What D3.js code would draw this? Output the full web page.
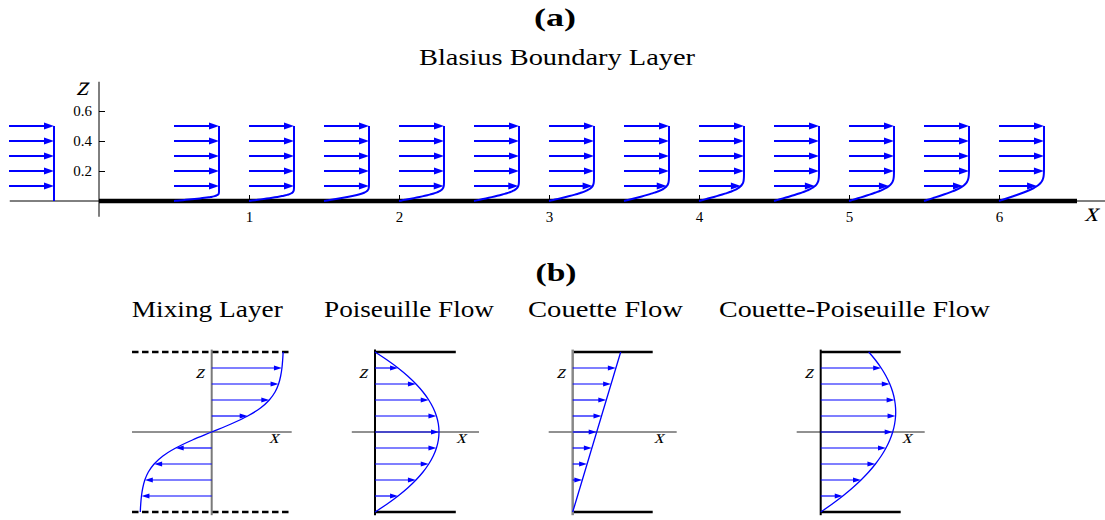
<!DOCTYPE html>
<html>
<head>
<meta charset="utf-8">
<script src="https://cdn.jsdelivr.net/npm/d3@7"></script>
<style>
  body { margin: 0; background: #fff; }
  svg { display: block; }
</style>
</head>
<body>
<svg id="chart" width="1105" height="520"></svg>
<script>
// ---------- Panel (a): Blasius boundary layer over a flat plate ----------
const stationX = [0.5, 1, 1.5, 2, 2.5, 3, 3.5, 4, 4.5, 5, 5.5, 6];
const inletX = -0.6;
const arrowZA = [0.1, 0.2, 0.3, 0.4, 0.5];
// Blasius similarity solution: eta and f'(eta) = u/U
const blasiusEta = [0, 0.2, 0.4, 0.6, 0.8, 1.0, 1.2, 1.4, 1.6, 1.8, 2.0, 2.2, 2.4, 2.6, 2.8,
                    3.0, 3.2, 3.4, 3.6, 3.8, 4.0, 4.2, 4.4, 4.6, 4.8, 5.0, 5.4, 5.8, 6.4, 7.2, 8.0];
const blasiusFp  = [0, 0.06641, 0.13277, 0.19894, 0.26471, 0.32979, 0.39378, 0.45627, 0.51676,
                    0.57477, 0.62977, 0.68132, 0.72899, 0.77246, 0.81152, 0.84605, 0.87609,
                    0.90177, 0.92333, 0.94112, 0.95552, 0.96696, 0.97587, 0.98269, 0.98779,
                    0.99155, 0.99616, 0.99838, 0.99961, 0.99996, 1.0];
const xTicksA = [1, 2, 3, 4, 5, 6];
const zTicksA = [0.2, 0.4, 0.6];
const nuA = 1.85e-4;        // kinematic viscosity / free-stream speed
const profileScaleA = 0.3;  // x-length drawn for a unit velocity
const profileTopA = 0.5;    // height of each drawn profile
const plateEnd = 6.52;

// ---------- Panel (b): shear and channel flows ----------
const zB = [-1, -0.9, -0.8, -0.7, -0.6, -0.5, -0.4, -0.3, -0.2, -0.1, 0,
            0.1, 0.2, 0.3, 0.4, 0.5, 0.6, 0.7, 0.8, 0.9, 1];
const mixingU = [-0.893, -0.887, -0.878, -0.862, -0.836, -0.792, -0.720, -0.610, -0.450, -0.241, 0,
                 0.241, 0.450, 0.610, 0.720, 0.792, 0.836, 0.862, 0.878, 0.887, 0.893];
const poiseuilleU = [0, 0.152, 0.288, 0.408, 0.512, 0.6, 0.672, 0.728, 0.768, 0.792, 0.8,
                     0.792, 0.768, 0.728, 0.672, 0.6, 0.512, 0.408, 0.288, 0.152, 0];
const couetteU = [0, 0.03, 0.06, 0.09, 0.12, 0.15, 0.18, 0.21, 0.24, 0.27, 0.3,
                  0.33, 0.36, 0.39, 0.42, 0.45, 0.48, 0.51, 0.54, 0.57, 0.6];
const couettePoiseuilleU = [0, 0.144, 0.276, 0.396, 0.504, 0.6, 0.684, 0.756, 0.816, 0.864, 0.9,
                            0.924, 0.936, 0.936, 0.924, 0.9, 0.864, 0.816, 0.756, 0.684, 0.6];
const arrowZB = [-0.8, -0.6, -0.4, -0.2, 0, 0.2, 0.4, 0.6, 0.8];
const titlesB = ["Mixing Layer", "Poiseuille Flow", "Couette Flow", "Couette-Poiseuille Flow"];

const BLUE = "#0000ff";
const SERIF = "Liberation Serif";
const svg = d3.select("#chart");

function addText(g, str, x, y, o = {}) {
  // slanted text is drawn as an oblique of the upright face
  const host = o.italic
    ? g.append("g").attr("transform", `translate(${x},${y}) skewX(-15)`)
    : g;
  const t = host.append("text")
    .attr("x", o.italic ? 0 : x).attr("y", o.italic ? 0 : y)
    .attr("text-anchor", o.anchor || "middle")
    .attr("font-family", SERIF)
    .attr("font-size", o.size || 16)
    .attr("fill", "#000")
    .text(str);
  if (o.bold) t.attr("font-weight", "bold");
  if (o.width) t.attr("textLength", o.width).attr("lengthAdjust", "spacingAndGlyphs");
  return t;
}

// Horizontal arrow from px x0 to px x1 at px y
function arrow(g, x0, x1, y, o) {
  const dir = Math.sign(x1 - x0);
  const len = Math.abs(x1 - x0);
  if (len < o.head) return;
  const xb = x1 - dir * o.head;
  g.append("line")
    .attr("x1", x0).attr("y1", y).attr("x2", xb + dir * 1).attr("y2", y)
    .attr("stroke", BLUE).attr("stroke-width", o.width);
  g.append("path")
    .attr("d", `M${x1},${y}L${xb},${y - o.half}L${xb},${y + o.half}Z`)
    .attr("fill", BLUE);
}

// ================= Panel (a) =================
addText(svg, "(a)", 555, 26, { size: 26, bold: true, width: 42 });
addText(svg, "Blasius Boundary Layer", 557, 65, { size: 24, width: 276 });

const xA = d3.scaleLinear().domain([0, 1]).range([99, 249]);
const zA = d3.scaleLinear().domain([0, 1]).range([201, 51]);
const gA = svg.append("g");

// axis lines
gA.append("line").attr("x1", xA(-0.595)).attr("x2", 1105)
  .attr("y1", zA(0)).attr("y2", zA(0)).attr("stroke", "#000").attr("stroke-width", 1);
gA.append("line").attr("x1", xA(0)).attr("x2", xA(0))
  .attr("y1", zA(0.795)).attr("y2", zA(-0.105)).attr("stroke", "#000").attr("stroke-width", 1);

// ticks and labels
const xAxisA = d3.axisBottom(xA).tickValues(xTicksA).tickFormat(d3.format("d"))
  .tickSizeInner(-6).tickSizeOuter(0).tickPadding(10);
const gx = gA.append("g").attr("transform", `translate(0,${zA(0)})`).call(xAxisA);
const zAxisA = d3.axisLeft(zA).tickValues(zTicksA).tickFormat(d3.format(".1f"))
  .tickSizeInner(-6).tickSizeOuter(0).tickPadding(7);
const gz = gA.append("g").attr("transform", `translate(${xA(0)},0)`).call(zAxisA);
[gx, gz].forEach(g => {
  g.select(".domain").remove();
  g.attr("font-family", SERIF).attr("font-size", 15);
  g.selectAll("text").attr("font-family", SERIF).attr("font-size", 15).attr("fill", "#000");
  g.selectAll("line").attr("stroke", "#000");
});

// plate
gA.append("line").attr("x1", xA(0)).attr("x2", xA(plateEnd))
  .attr("y1", zA(0)).attr("y2", zA(0)).attr("stroke", "#000").attr("stroke-width", 4.5);

addText(gA, "z", 82, 95, { size: 27, italic: true });
addText(gA, "x", 1091, 221, { size: 27, italic: true });

// inlet (uniform) profile
const arrowA = { head: 10, half: 3.5, width: 2 };
const inletTip = inletX + profileScaleA;
gA.append("line").attr("x1", xA(inletTip)).attr("x2", xA(inletTip))
  .attr("y1", zA(0)).attr("y2", zA(profileTopA))
  .attr("stroke", BLUE).attr("stroke-width", 2);
arrowZA.forEach(z => arrow(gA, xA(inletX), xA(inletTip), zA(z), arrowA));

// Blasius profiles downstream
const fpOfEta = d3.scaleLinear().domain(blasiusEta).range(blasiusFp).clamp(true);
const lineA = d3.line().x(d => xA(d[0])).y(d => zA(d[1])).curve(d3.curveCatmullRom.alpha(0.5));
stationX.forEach(x0 => {
  const thick = Math.sqrt(nuA * x0);
  const pts = blasiusEta.map((eta, i) => [x0 + profileScaleA * blasiusFp[i], eta * thick])
    .filter(p => p[1] < profileTopA);
  pts.push([x0 + profileScaleA * blasiusFp[blasiusFp.length - 1], profileTopA]);
  arrowZA.forEach(z => {
    const u = fpOfEta(z / thick);
    arrow(gA, xA(x0), xA(x0 + profileScaleA * u), zA(z), arrowA);
  });
  gA.append("path").attr("d", lineA(pts)).attr("fill", "none")
    .attr("stroke", BLUE).attr("stroke-width", 2).attr("stroke-linejoin", "round");
});

// ================= Panel (b) =================
addText(svg, "(b)", 556, 281, { size: 26, bold: true, width: 41 });

const zScaleB = d3.scaleLinear().domain([-1, 1]).range([512, 352]);
const profilesB = [mixingU, poiseuilleU, couetteU, couettePoiseuilleU];
const layoutB = [
  { axisX: 211.7, titleX: 207.3, titleW: 151, wall: [-0.996, 1.0], hAxis: [-0.996, 1.0], dashed: true,  axisColor: "#7a7a7a", axisW: 2 },
  { axisX: 375,   titleX: 409,   titleW: 170, wall: [0, 1.01],     hAxis: [-0.29, 1.3],   dashed: false, axisColor: "#000",    axisW: 2 },
  { axisX: 572.7, titleX: 605.5, titleW: 155, wall: [0, 1.0],      hAxis: [-0.3, 1.3],    dashed: false, axisColor: "#888",    axisW: 2.5 },
  { axisX: 820.7, titleX: 854.5, titleW: 271, wall: [0, 1.0],      hAxis: [-0.3, 1.3],    dashed: false, axisColor: "#000",    axisW: 2 }
];
const arrowB = { head: 8, half: 2.5, width: 1.2 };

titlesB.forEach((title, i) => {
  const L = layoutB[i];
  const g = svg.append("g");
  const uS = d3.scaleLinear().domain([0, 1]).range([L.axisX, L.axisX + 80]);
  addText(g, title, L.titleX, 317, { size: 24, width: L.titleW });

  // walls (solid) or free-stream edges (dashed)
  [-1, 1].forEach(zw => {
    g.append("line").attr("x1", uS(L.wall[0])).attr("x2", uS(L.wall[1]))
      .attr("y1", zScaleB(zw)).attr("y2", zScaleB(zw))
      .attr("stroke", "#000").attr("stroke-width", 2.5)
      .attr("stroke-dasharray", L.dashed ? "6.5,3.5" : null);
  });
  // axes
  g.append("line").attr("x1", uS(L.hAxis[0])).attr("x2", uS(L.hAxis[1]))
    .attr("y1", zScaleB(0)).attr("y2", zScaleB(0))
    .attr("stroke", "#222").attr("stroke-width", 1);
  g.append("line").attr("x1", uS(0)).attr("x2", uS(0))
    .attr("y1", zScaleB(1.03)).attr("y2", zScaleB(-1.04))
    .attr("stroke", L.axisColor).attr("stroke-width", L.axisW);
  addText(g, "z", L.axisX - 12, 378, { size: 19, italic: true });
  addText(g, "x", uS(L.hAxis[1]) - 18, 443, { size: 19, italic: true });

  // velocity arrows and profile
  const prof = profilesB[i];
  arrowZB.forEach(z => {
    const k = zB.findIndex(v => Math.abs(v - z) < 1e-9);
    arrow(g, uS(0), uS(prof[k]), zScaleB(z), arrowB);
  });
  const line = d3.line().x((d, j) => uS(prof[j])).y(d => zScaleB(d))
    .curve(d3.curveCatmullRom.alpha(0.5));
  g.append("path").attr("d", line(zB)).attr("fill", "none")
    .attr("stroke", BLUE).attr("stroke-width", 1.3);
});
</script>
</body>
</html>
